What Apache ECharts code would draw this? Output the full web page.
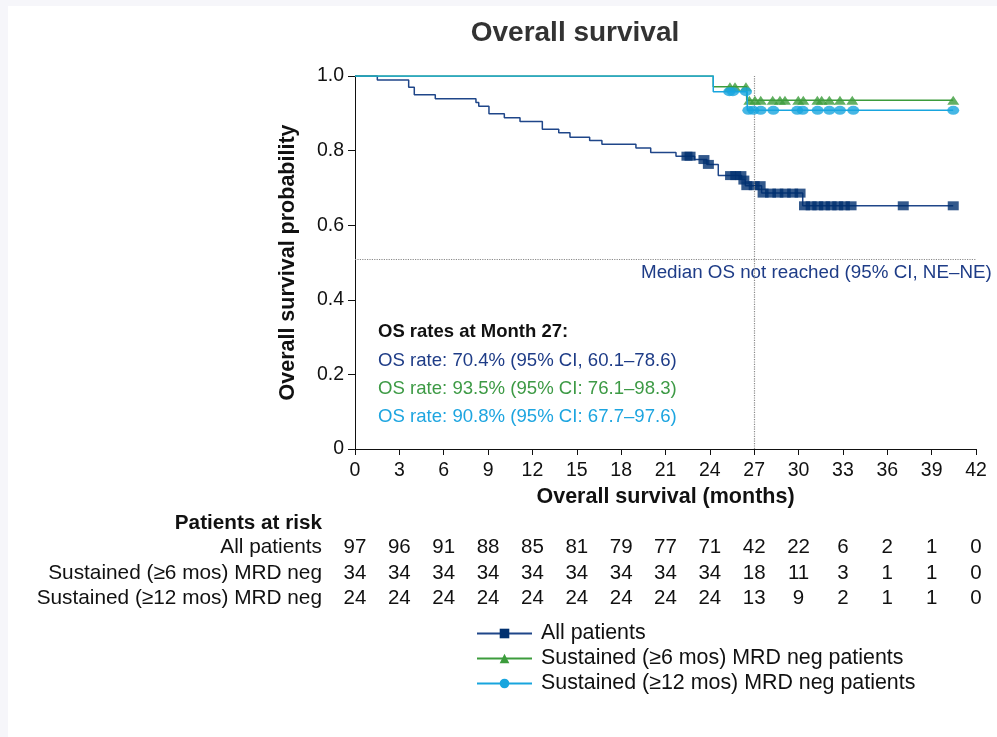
<!DOCTYPE html>
<html><head><meta charset="utf-8">
<script src="https://cdn.jsdelivr.net/npm/echarts@6/dist/echarts.min.js"></script>
<style>html,body{margin:0;padding:0;background:#f6f6fa;}#c{width:997px;height:737px;}</style>
</head><body><div id="c"></div>
<script>
const FONT = 'Liberation Sans, Arial, Helvetica, sans-serif';
const NAVY = '#00306f', NAVY_LINE = '#1f4689', GREEN = '#3c9c3c', CYAN = '#18a5de';

const xTicks = [0,3,6,9,12,15,18,21,24,27,30,33,36,39,42];
const yTicks = [0,0.2,0.4,0.6,0.8,1.0];
const seriesNames = ['All patients','Sustained (≥6 mos) MRD neg patients','Sustained (≥12 mos) MRD neg patients'];

// All patients KM steps
const allTime = [0,1.51,3.63,4.01,5.43,8.18,8.37,9.06,10.10,11.16,12.67,13.78,14.54,15.87,16.70,19.00,20.0,21.71,22.97,23.8,24.57,26.15,26.4,27.5,30.28,40.46];
const allSurv = [1,0.989,0.970,0.950,0.939,0.929,0.919,0.899,0.888,0.878,0.857,0.848,0.836,0.827,0.817,0.807,0.795,0.785,0.776,0.763,0.733,0.721,0.706,0.686,0.652,0.652];
const allCensorTime = [22.45,22.66,23.6,23.9,25.4,25.75,26.1,26.3,26.5,27.0,27.4,27.6,28.1,28.6,29.1,29.6,30.1,30.4,30.85,31.3,31.75,32.2,32.65,33.1,33.55,37.08,40.46];
const allCensorSurv = [0.785,0.785,0.776,0.763,0.733,0.733,0.733,0.721,0.706,0.706,0.706,0.686,0.686,0.686,0.686,0.686,0.686,0.652,0.652,0.652,0.652,0.652,0.652,0.652,0.652,0.652,0.652];

// Sustained (>=6 mos) MRD neg
const sixTime = [0,24.23,26.49,40.46];
const sixSurv = [1,0.971,0.935,0.935];
const sixCensorTime = [25.36,25.70,26.44,26.67,27.05,27.44,28.25,28.74,29.08,29.98,30.32,31.27,31.56,32.08,32.80,33.63,40.46];
const sixCensorSurv = [0.971,0.971,0.971,0.935,0.935,0.935,0.935,0.935,0.935,0.935,0.935,0.935,0.935,0.935,0.935,0.935,0.935];

// Sustained (>=12 mos) MRD neg
const twelveTime = [0,24.23,26.53,40.46];
const twelveSurv = [1,0.958,0.908,0.908];
const twelveCensorTime = [25.31,25.56,26.44,26.6,26.94,27.44,28.29,29.91,30.28,31.29,32.08,32.8,33.7,40.46];
const twelveCensorSurv = [0.958,0.958,0.958,0.908,0.908,0.908,0.908,0.908,0.908,0.908,0.908,0.908,0.908,0.908];

// Patients at risk
const riskLabels = ['All patients','Sustained (≥6 mos) MRD neg','Sustained (≥12 mos) MRD neg'];
const riskAll = [97,96,91,88,85,81,79,77,71,42,22,6,2,1,0];
const riskSix = [34,34,34,34,34,34,34,34,34,18,11,3,1,1,0];
const riskTwelve = [24,24,24,24,24,24,24,24,24,13,9,2,1,1,0];

const osHeader = 'OS rates at Month 27:';
const osLines = ['OS rate: 70.4% (95% CI, 60.1–78.6)','OS rate: 93.5% (95% CI: 76.1–98.3)','OS rate: 90.8% (95% CI: 67.7–97.6)'];
const medianText = 'Median OS not reached (95% CI, NE–NE)';
const landmarkMonth = 27;
const medianLevel = 0.506;

const zip = (a,b) => a.map((v,i)=>[v,b[i]]);
const ELLIPSE = 'path://M0,5 A5,5 0 1,1 10,5 A5,5 0 1,1 0,5 Z';

const chart = echarts.init(document.getElementById('c'), null, {renderer:'canvas'});

const option = {
  backgroundColor: '#f6f6fa',
  animation: false,
  textStyle: {fontFamily: FONT},
  grid: {left: 355, top: 76, width: 621, height: 373, containLabel: false},
  xAxis: {
    type: 'value', min: 0, max: 42, interval: 3,
    name: 'Overall survival (months)', nameLocation: 'middle', nameGap: 37,
    nameTextStyle: {fontSize: 21.5, fontWeight: 'bold', color: '#111', fontFamily: FONT},
    axisLine: {lineStyle: {color: '#111', width: 1}},
    axisTick: {show: true, length: 6, lineStyle: {color: '#111'}},
    axisLabel: {fontSize: 19.5, color: '#111', margin: 12, fontFamily: FONT},
    splitLine: {show: false}
  },
  yAxis: {
    type: 'value', min: 0, max: 1, interval: 0.2,
    name: 'Overall survival probability', nameLocation: 'middle', nameGap: 56, nameRotate: 90,
    nameTextStyle: {fontSize: 21.5, fontWeight: 'bold', color: '#111', fontFamily: FONT},
    axisLine: {show: true, lineStyle: {color: '#111', width: 1}},
    axisTick: {show: true, length: 7, lineStyle: {color: '#111'}},
    axisLabel: {fontSize: 19.5, color: '#111', margin: 11, fontFamily: FONT,
      formatter: v => v === 0 ? '0' : v.toFixed(1)},
    splitLine: {show: false}
  },
  legend: {
    orient: 'vertical', left: 471, top: 618, itemWidth: 55, itemHeight: 12, itemGap: 4,
    selectedMode: false, data: seriesNames,
    textStyle: {fontSize: 21.4, color: '#111', fontFamily: FONT, padding: [0,0,0,4]}
  },
  series: [
    {name: seriesNames[0], type: 'line', step: 'end', data: zip(allTime, allSurv),
     symbol: 'rect', showSymbol: false, silent: true, color: NAVY,
     lineStyle: {color: NAVY_LINE, width: 1.5}, z: 2,
     markLine: {silent: true, symbol: 'none', label: {show: false},
       lineStyle: {color: '#8a8a8a', type: 'dotted', width: 1.2},
       data: [{xAxis: landmarkMonth}, {yAxis: medianLevel}]}},
    {name: 'allCensor', type: 'scatter', data: zip(allCensorTime, allCensorSurv),
     symbol: 'rect', symbolSize: [11, 9], itemStyle: {color: NAVY}, silent: true, z: 3},
    {name: seriesNames[1], type: 'line', step: 'end', data: zip(sixTime, sixSurv),
     symbol: 'triangle', showSymbol: false, silent: true, color: GREEN,
     lineStyle: {color: GREEN, width: 1.5}, z: 4},
    {name: 'sixCensor', type: 'scatter', data: zip(sixCensorTime, sixCensorSurv),
     symbol: 'triangle', symbolSize: [12, 9], itemStyle: {color: GREEN}, silent: true, z: 5},
    {name: seriesNames[2], type: 'line', step: 'end', data: zip(twelveTime, twelveSurv),
     symbol: ELLIPSE, showSymbol: false, silent: true, color: CYAN,
     lineStyle: {color: CYAN, width: 1.5}, z: 6},
    {name: 'twelveCensor', type: 'scatter', data: zip(twelveCensorTime, twelveCensorSurv),
     symbol: ELLIPSE, symbolSize: [12, 9], itemStyle: {color: CYAN}, silent: true, z: 7}
  ]
};
chart.setOption(option);

// Graphic overlays (positions via the chart's own scales)
const g = [];
g.push({type: 'rect', shape: {x: 8, y: 6, width: 989, height: 731}, style: {fill: '#ffffff'}, z: -10, silent: true});
g.push({type: 'text', x: 575, y: 33, style: {text: 'Overall survival', font: 'bold 28px ' + FONT, fill: '#333', align: 'center', verticalAlign: 'middle'}, silent: true});
g.push({type: 'text', x: 641, y: 273, style: {text: medianText, font: '18.8px ' + FONT, fill: '#1e3c87', align: 'left', verticalAlign: 'middle'}, silent: true});
g.push({type: 'text', x: 378, y: 332, style: {text: osHeader, font: 'bold 18.5px ' + FONT, fill: '#111', align: 'left', verticalAlign: 'middle'}, silent: true});
const osColors = ['#1e3c87', '#3d9a45', '#1da5e0'];
const osY = [361, 389, 417];
osLines.forEach((t, i) => g.push({type: 'text', x: 378, y: osY[i], style: {text: t, font: '18.6px ' + FONT, fill: osColors[i], align: 'left', verticalAlign: 'middle'}, silent: true}));

g.push({type: 'text', x: 322, y: 523, style: {text: 'Patients at risk', font: 'bold 20.7px ' + FONT, fill: '#111', align: 'right', verticalAlign: 'middle'}, silent: true});
const rows = [riskAll, riskSix, riskTwelve];
const rowY = [547, 573, 598];
rows.forEach((row, r) => {
  g.push({type: 'text', x: 322, y: rowY[r], style: {text: riskLabels[r], font: '20.8px ' + FONT, fill: '#111', align: 'right', verticalAlign: 'middle'}, silent: true});
  row.forEach((v, i) => {
    const px = chart.convertToPixel({xAxisIndex: 0}, xTicks[i]);
    g.push({type: 'text', x: px, y: rowY[r], style: {text: String(v), font: '20.5px ' + FONT, fill: '#111', align: 'center', verticalAlign: 'middle'}, silent: true});
  });
});
chart.setOption({graphic: g});
</script></body></html>
